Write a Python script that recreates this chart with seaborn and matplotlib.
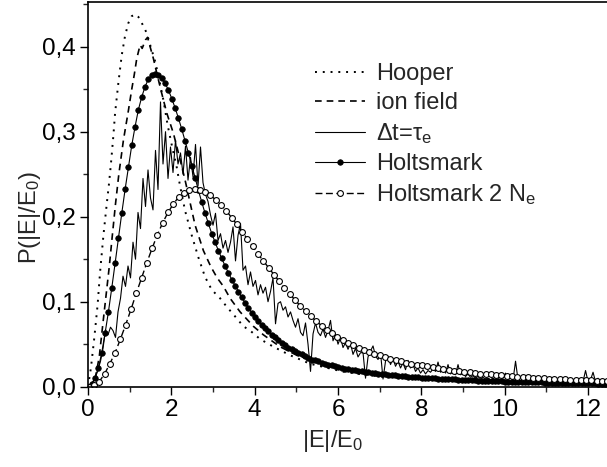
import numpy as np
import pandas as pd
import matplotlib
matplotlib.use("Agg")
import matplotlib.pyplot as plt
import seaborn as sns
from matplotlib.ticker import MultipleLocator, FuncFormatter

# ---------------- data ----------------
# Hooper distribution (dotted)
hooper_x = [0.0, 0.07, 0.15, 0.23, 0.29, 0.37, 0.45, 0.50, 0.55, 0.61, 0.65, 0.73, 0.81, 0.89,
            0.97, 1.05, 1.14, 1.21, 1.29, 1.41, 1.51, 1.61, 1.71, 1.81, 1.91, 2.02, 2.13, 2.21,
            2.33, 2.49, 2.65, 2.81, 2.97, 3.17, 3.33, 3.49, 3.73, 3.89, 4.13, 4.45, 4.85, 5.09,
            5.33, 6.13, 7.0, 8.0, 9.0, 10.0, 11.0, 12.5]
hooper_y = [0.0, 0.022, 0.057, 0.096, 0.135, 0.178, 0.215, 0.237, 0.262, 0.296, 0.322, 0.358,
            0.390, 0.413, 0.428, 0.436, 0.438, 0.435, 0.428, 0.416, 0.399, 0.383, 0.361, 0.337,
            0.308, 0.282, 0.258, 0.236, 0.207, 0.178, 0.152, 0.129, 0.114, 0.104, 0.094, 0.085,
            0.071, 0.066, 0.056, 0.047, 0.037, 0.032, 0.027, 0.0176, 0.012, 0.0085, 0.0062,
            0.0048, 0.0038, 0.0028]

# ion field distribution (dashed)
ion_x = [0.0, 0.15, 0.27, 0.35, 0.43, 0.51, 0.58, 0.66, 0.74, 0.85, 0.97, 1.05, 1.11, 1.17,
         1.25, 1.30, 1.38, 1.43, 1.49, 1.57, 1.65, 1.77, 1.89, 2.05, 2.17, 2.33, 2.57, 2.77,
         2.95, 3.10, 3.25, 3.41, 3.65, 3.97, 4.21, 4.61, 5.01, 5.5, 6.0, 7.0, 8.0, 9.0, 10.0,
         11.0, 12.5]
ion_y = [0.0, 0.004, 0.035, 0.071, 0.106, 0.141, 0.176, 0.215, 0.250, 0.290, 0.325, 0.350,
         0.367, 0.386, 0.402, 0.398, 0.408, 0.411, 0.400, 0.386, 0.369, 0.345, 0.322, 0.298,
         0.275, 0.243, 0.190, 0.160, 0.141, 0.128, 0.118, 0.104, 0.088, 0.071, 0.061, 0.047,
         0.037, 0.029, 0.023, 0.015, 0.0105, 0.0078, 0.006, 0.0047, 0.0035]

# simulation, Delta t = tau_e (noisy solid line), sampled every 0.06
sim_x0, sim_dx = 0.0, 0.06
sim_y = [0.000, 0.002, 0.006, 0.012, 0.020, 0.030, 0.045, 0.067, 0.061, 0.070,
         0.066, 0.058, 0.088, 0.104, 0.130, 0.118, 0.142, 0.128, 0.170, 0.150,
         0.205, 0.186, 0.245, 0.212, 0.255, 0.222, 0.208, 0.278, 0.232, 0.335,
         0.262, 0.300, 0.245, 0.282, 0.252, 0.290, 0.262, 0.275, 0.250, 0.283,
         0.243, 0.270, 0.247, 0.285, 0.236, 0.282, 0.240, 0.226, 0.218, 0.202,
         0.190, 0.204, 0.172, 0.180, 0.163, 0.172, 0.158, 0.170, 0.188, 0.148,
         0.178, 0.192, 0.137, 0.142, 0.120, 0.135, 0.118, 0.125, 0.108, 0.120,
         0.110, 0.117, 0.100, 0.112, 0.128, 0.074, 0.098, 0.100, 0.090, 0.094,
         0.082, 0.088, 0.078, 0.070, 0.080, 0.064, 0.060, 0.075, 0.050, 0.018,
         0.062, 0.075, 0.064, 0.060, 0.068, 0.058, 0.066, 0.078, 0.054, 0.062,
         0.050, 0.058, 0.046, 0.052, 0.044, 0.051, 0.038, 0.045, 0.035, 0.040,
         0.040, 0.010, 0.035, 0.042, 0.048, 0.036, 0.032, 0.040, 0.009, 0.030,
         0.036, 0.026, 0.033, 0.024, 0.030, 0.022, 0.028, 0.020, 0.031, 0.022,
         0.026, 0.018, 0.022, 0.016, 0.020, 0.015, 0.019, 0.017, 0.021, 0.018,
         0.029, 0.017, 0.024, 0.016, 0.026, 0.015, 0.018, 0.014, 0.026, 0.014,
         0.016, 0.012, 0.015, 0.011, 0.013, 0.010, 0.012, 0.009, 0.011, 0.009,
         0.010, 0.008, 0.010, 0.007, 0.009, 0.008, 0.011, 0.016, 0.009, 0.010,
         0.008, 0.030, 0.008, 0.007, 0.009, 0.006, 0.008, 0.006, 0.007, 0.005,
         0.007, 0.005, 0.006, 0.004, 0.006, 0.005, 0.006, 0.004, 0.005, 0.004,
         0.006, 0.004, 0.005, 0.004, 0.005, 0.003, 0.005, 0.004, 0.006, 0.019,
         0.006, 0.008, 0.017, 0.006, 0.010, 0.005, 0.008, 0.006, 0.007]

# Holtsmark (filled circles), sampled every 0.08 starting at 0.01
holt_x0, holt_dx = 0.01, 0.08
holt_y = [0.000, 0.003, 0.010, 0.022, 0.040, 0.063, 0.088, 0.116, 0.145, 0.175,
          0.204, 0.232, 0.258, 0.284, 0.306, 0.326, 0.341, 0.353, 0.362, 0.367,
          0.368, 0.367, 0.363, 0.357, 0.349, 0.339, 0.328, 0.316, 0.303, 0.289,
          0.275, 0.260, 0.246, 0.231, 0.217, 0.204, 0.192, 0.180, 0.170, 0.160,
          0.151, 0.142, 0.134, 0.126, 0.119, 0.112, 0.105, 0.099, 0.093, 0.087,
          0.082, 0.077, 0.073, 0.069, 0.065, 0.061, 0.058, 0.055, 0.052, 0.049,
          0.046, 0.044, 0.042, 0.040, 0.038, 0.036, 0.034, 0.032, 0.031, 0.030,
          0.028, 0.027, 0.026, 0.025, 0.024, 0.023, 0.022, 0.021, 0.0205, 0.0198,
          0.0192, 0.0186, 0.0180, 0.0175, 0.0170, 0.0165, 0.0160, 0.0155, 0.0150, 0.0146,
          0.0142, 0.0138, 0.0134, 0.0130, 0.0127, 0.0123, 0.0120, 0.0117, 0.0114, 0.0111,
          0.0108, 0.0105, 0.0103, 0.0100, 0.0098, 0.0095, 0.0093, 0.0091, 0.0089, 0.0087,
          0.0085, 0.0083, 0.0081, 0.0079, 0.0077, 0.0076, 0.0074, 0.0072, 0.0071, 0.0069,
          0.0068, 0.0066, 0.0065, 0.0064, 0.0062, 0.0061, 0.0060, 0.0059, 0.0058, 0.0057,
          0.0056, 0.0055, 0.0054, 0.0053, 0.0052, 0.0051, 0.0050, 0.0049, 0.0048, 0.0047,
          0.0046, 0.0046, 0.0045, 0.0044, 0.0043, 0.0043, 0.0042, 0.0041, 0.0041, 0.0040,
          0.0039, 0.0039, 0.0038, 0.0037, 0.0037, 0.0036, 0.0036]

# Holtsmark for doubled electron density (open circles), sampled every 0.127 from 0.016
holt2_x0, holt2_dx = 0.016, 0.127
holt2_y = [0.000, 0.002, 0.006, 0.015, 0.027, 0.040, 0.056, 0.073, 0.091, 0.110,
           0.128, 0.146, 0.163, 0.179, 0.193, 0.205, 0.215, 0.223, 0.228, 0.231,
           0.232, 0.231, 0.229, 0.225, 0.220, 0.214, 0.207, 0.199, 0.191, 0.182,
           0.174, 0.165, 0.156, 0.148, 0.140, 0.132, 0.124, 0.116, 0.109, 0.102,
           0.095, 0.089, 0.083, 0.077, 0.072, 0.067, 0.063, 0.059, 0.055, 0.052,
           0.049, 0.046, 0.043, 0.041, 0.039, 0.037, 0.035, 0.033, 0.031, 0.030,
           0.028, 0.027, 0.026, 0.025, 0.024, 0.023, 0.022, 0.021, 0.020, 0.019,
           0.018, 0.0175, 0.017, 0.016, 0.0155, 0.015, 0.0145, 0.014, 0.0135, 0.013,
           0.0125, 0.012, 0.0115, 0.011, 0.0106, 0.0102, 0.0098, 0.0095, 0.0092, 0.0089,
           0.0086, 0.0083, 0.0080, 0.0078, 0.0076, 0.0074, 0.0072, 0.0070, 0.0068]

labels = ["Hooper", "ion field", "\u0394t=\u03c4$_\\mathregular{e}$", "Holtsmark",
          "Holtsmark 2 N$_\\mathregular{e}$"]
xticks = [0, 2, 4, 6, 8, 10, 12]
yticks = [0.0, 0.1, 0.2, 0.3, 0.4]

# ---------------- tables ----------------
df_hooper = pd.DataFrame({"x": hooper_x, "y": hooper_y})
df_ion = pd.DataFrame({"x": ion_x, "y": ion_y})
df_sim = pd.DataFrame({"x": sim_x0 + sim_dx * np.arange(len(sim_y)), "y": sim_y})
df_holt = pd.DataFrame({"x": holt_x0 + holt_dx * np.arange(len(holt_y)), "y": holt_y})
df_holt2 = pd.DataFrame({"x": holt2_x0 + holt2_dx * np.arange(len(holt2_y)), "y": holt2_y})

# ---------------- style ----------------
sns.set_style("ticks")
plt.rcParams["font.family"] = ["Liberation Sans", "DejaVu Sans"]
plt.rcParams["mathtext.fontset"] = "custom"
plt.rcParams["mathtext.rm"] = "Liberation Sans"
plt.rcParams["mathtext.it"] = "Liberation Sans:italic"
plt.rcParams["mathtext.bf"] = "Liberation Sans:bold"

W, H = 607, 467
fig = plt.figure(figsize=(W / 100, H / 100), dpi=100)
ax_left, ax_bottom_px = 88, 386.7
x_max, y_max = 12.5, 0.4525
px_per_x, px_per_y = 41.67, 850.0
ax_w_px, ax_h_px = x_max * px_per_x, y_max * px_per_y
ax = fig.add_axes([ax_left / W, (H - ax_bottom_px) / H, ax_w_px / W, ax_h_px / H])

common = dict(ax=ax, x="x", y="y", color="black", sort=False, estimator=None, legend=False)
sns.lineplot(data=df_hooper, linestyle=(0, (1.0, 3.0)), linewidth=1.4, label=labels[0], **common)
sns.lineplot(data=df_ion, linestyle=(0, (4.0, 3.0)), linewidth=1.2, label=labels[1], **common)
sns.lineplot(data=df_sim, linestyle="-", linewidth=0.8, label=labels[2], **common)
sns.lineplot(data=df_holt, linestyle="-", linewidth=0.8, marker="o", markersize=4.0,
             markerfacecolor="black", markeredgecolor="black", markeredgewidth=0.5,
             label=labels[3], **common)
sns.lineplot(data=df_holt2, linestyle=(0, (5.0, 2.5)), linewidth=1.0, marker="o", markersize=4.2,
             markerfacecolor="white", markeredgecolor="black", markeredgewidth=0.8,
             label=labels[4], **common)

ax.set_xlim(0, x_max)
ax.set_ylim(0, y_max)
ax.set_xticks(xticks)
ax.set_yticks(yticks)
ax.xaxis.set_minor_locator(MultipleLocator(1))
ax.yaxis.set_minor_locator(MultipleLocator(0.05))
ax.yaxis.set_major_formatter(FuncFormatter(lambda v, p: f"{v:.1f}".replace(".", ",")))
ax.tick_params(which="major", direction="out", length=6, width=1.0, labelsize=17.5,
               colors="black", pad=3)
ax.tick_params(which="minor", direction="out", length=3.5, width=1.0)
ax.tick_params(top=False, right=False, which="both")
for s in ["left", "bottom", "top", "right"]:
    ax.spines[s].set_linewidth(1.2)
    ax.spines[s].set_color("black")
    ax.spines[s].set_visible(True)

ax.set_xlabel("|E|/E$_\\mathregular{0}$", fontsize=17)
ax.set_ylabel("P(|E|/E$_\\mathregular{0}$)", fontsize=17)
ax.xaxis.set_label_coords((333 - ax_left) / ax_w_px, -(428 - ax_bottom_px) / ax_h_px)
ax.yaxis.set_label_coords(-(88 - 43) / ax_w_px, (ax_bottom_px - 218) / ax_h_px)

handles = ax.get_lines()[:5]
leg = ax.legend(handles, labels, loc="upper left",
                bbox_to_anchor=((315 - ax_left) / ax_w_px, (ax_bottom_px - 63) / ax_h_px),
                frameon=False, fontsize=17, handlelength=2.1, handletextpad=0.5,
                labelspacing=0.3, borderpad=0, borderaxespad=0, numpoints=1)

fig.savefig("out.png", dpi=100)
